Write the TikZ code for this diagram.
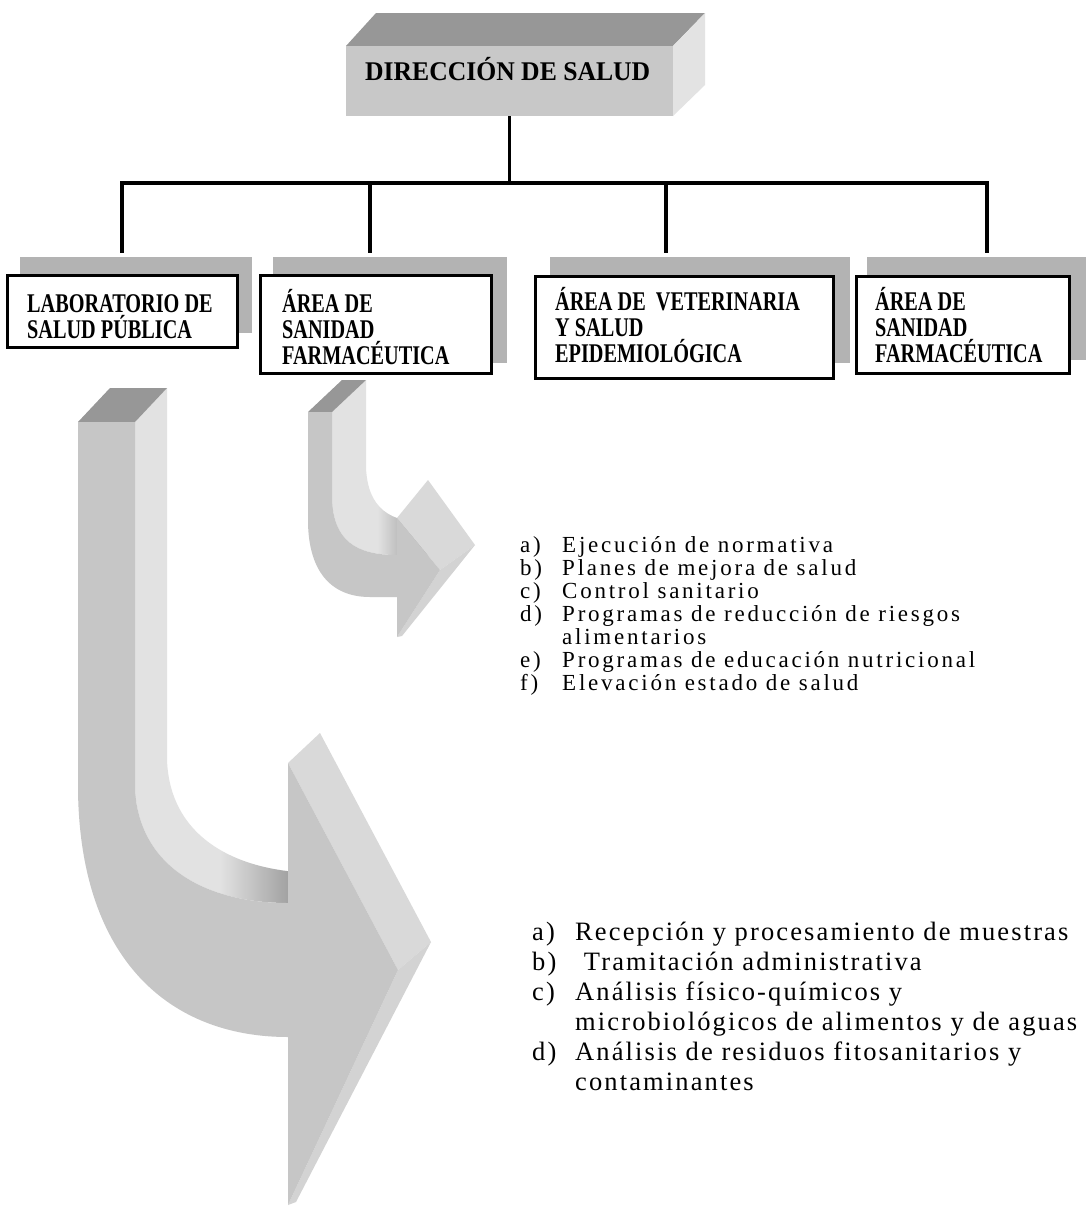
\documentclass[tikz,border=0pt]{standalone}
\usepackage{fontspec}
\setmainfont{Liberation Serif}
\newfontfamily\boxfont[FakeStretch=0.75]{Liberation Serif}
\newfontfamily\hdrfont[FakeStretch=0.95]{Liberation Serif}
\newfontfamily\listfont[LetterSpace=8]{Liberation Serif}
\newfontfamily\listfontb[LetterSpace=12]{Liberation Serif}
\definecolor{frontgray}{HTML}{C6C6C6}
\definecolor{topgray}{HTML}{979797}
\definecolor{sidegray}{HTML}{E2E2E2}
\definecolor{headside}{HTML}{D9D9D9}
\definecolor{stripgray}{HTML}{D3D3D3}
\definecolor{darkend}{HTML}{9C9C9C}
\definecolor{shadowgray}{HTML}{B3B3B3}
\definecolor{hdrfront}{HTML}{C8C8C8}
\definecolor{hdrside}{HTML}{E3E3E3}
\pgfdeclarehorizontalshading{bendshade}{100bp}{color(0bp)=(sidegray); color(48bp)=(sidegray); color(68bp)=(darkend); color(100bp)=(darkend)}
\newcommand{\stacklines}[2]{\vtop{\baselineskip=#1\lineskiplimit=-100pt\lineskip=0pt #2}}
\newcommand{\itm}[3]{\hbox{\makebox[#1][l]{#2}#3}}
\tikzset{
  conn/.style={line width=3.2pt, black},
  orgbox/.style={draw, line width=3pt, fill=white, inner sep=0pt, anchor=north west},
  boxtxt/.style={inner sep=0pt, anchor=base west, font=\boxfont\bfseries\fontsize{27pt}{26pt}\selectfont},
  listtxt/.style={inner sep=0pt, anchor=base west},
}
\begin{document}
\begin{tikzpicture}[x=1pt, y=-1pt]
\useasboundingbox[fill=white] (0,0) rectangle (1091,1216);

% ---- header block ----
\fill[topgray] (346,46) -- (376,13) -- (705,13) -- (673,46) -- cycle;
\fill[hdrside] (673,46) -- (705,13) -- (705,85) -- (673,116) -- cycle;
\node[fill=hdrfront, minimum width=327pt, minimum height=70pt, inner sep=0pt, anchor=north west] (dir) at (346,46) {};
\node[inner sep=0pt, anchor=base west, font=\hdrfont\bfseries\fontsize{27pt}{27pt}\selectfont] (dirlbl) at (365,80) {DIRECCIÓN DE SALUD};

% ---- shadows ----
\fill[shadowgray] (20,257) rectangle (252,333);
\fill[shadowgray] (273,257) rectangle (507,363);
\fill[shadowgray] (550,257) rectangle (850,363);
\fill[shadowgray] (867,257) rectangle (1086,360);

% ---- boxes ----
\node[orgbox, minimum width=230pt, minimum height=72pt] (lab) at (6,274) {};
\node[orgbox, minimum width=231pt, minimum height=98pt] (far1) at (259,274) {};
\node[orgbox, minimum width=298pt, minimum height=102pt] (vet) at (534,275) {};
\node[orgbox, minimum width=213pt, minimum height=97pt] (far2) at (855,275) {};

\node[boxtxt] (labt) at (27,312) {\stacklines{26pt}{\hbox{LABORATORIO DE}\hbox{SALUD PÚBLICA}}};
\node[boxtxt] (far1t) at (282,312) {\stacklines{26pt}{\hbox{ÁREA DE}\hbox{SANIDAD}\hbox{FARMACÉUTICA}}};
\node[boxtxt] (vett) at (555,310) {\stacklines{26pt}{\hbox{ÁREA DE\ \ VETERINARIA}\hbox{Y SALUD}\hbox{EPIDEMIOLÓGICA}}};
\node[boxtxt] (far2t) at (875,310) {\stacklines{26pt}{\hbox{ÁREA DE}\hbox{SANIDAD}\hbox{FARMACÉUTICA}}};

% ---- tree connectors ----
\coordinate (hl) at (122,183);
\coordinate (hr) at (987,183);
\coordinate (d1) at (122,253);
\coordinate (d2) at (370,253);
\coordinate (d3) at (666,253);
\coordinate (d4) at (987,253);
\draw[conn] (dir.south) -- (dir.south |- hl);
\draw[conn, line cap=rect] (hl) -- (hr);
\draw[conn] (hl) -- (d1);
\draw[conn] (d2 |- hl) -- (d2);
\draw[conn] (d3 |- hl) -- (d3);
\draw[conn] (hr) -- (d4);

% ---- big bent arrow ----
\path[shading=bendshade] (135,422) -- (167,388) -- (167,760) .. controls (170,840) and (240,873) .. (320,873) -- (320,903) -- (288,903) .. controls (210,903) and (140,870) .. (135,790) -- cycle;
\fill[topgray] (78,422) -- (110,388) -- (167,388) -- (135,422) -- cycle;
\fill[headside] (288,763) -- (320,733) -- (431,942) -- (398,970) -- cycle;
\fill[stripgray] (398,970) -- (431,942) -- (296,1202) -- (288,1205) -- cycle;
\fill[frontgray] (78,422) -- (135,422) -- (135,790) .. controls (140,870) and (210,903) .. (288,903) -- (288,763) -- (398,970) -- (288,1205) -- (288,1037) .. controls (170,1037) and (80,960) .. (78,790) -- cycle;

% ---- small bent arrow ----
\path[shading=bendshade] (332,412) -- (366,380) -- (366,468) .. controls (368,508) and (389,523) .. (431,523) -- (431,555) -- (397,555) .. controls (355,555) and (334,540) .. (332,500) -- cycle;
\fill[topgray] (308,412) -- (342,380) -- (366,380) -- (332,412) -- cycle;
\fill[headside] (397,518) -- (428,480) -- (475,545) -- (440,570) -- cycle;
\fill[stripgray] (440,570) -- (475,545) -- (402,636) -- (397,637) -- cycle;
\fill[frontgray] (308,412) -- (332,412) -- (332,500) .. controls (334,540) and (355,555) .. (397,555) -- (397,518) -- (440,570) -- (397,637) -- (397,597) -- (370,597) .. controls (330,597) and (308,570) .. (308,520) -- cycle;

% ---- lists ----
\node[listtxt, font=\listfontb\fontsize{23pt}{23pt}\selectfont] (list1) at (520,552) {\stacklines{23pt}{%
\itm{42pt}{a)}{Ejecución de normativa}%
\itm{42pt}{b)}{Planes de mejora de salud}%
\itm{42pt}{c)}{Control sanitario}%
\itm{42pt}{d)}{Programas de reducción de riesgos}%
\itm{42pt}{}{alimentarios}%
\itm{42pt}{e)}{Programas de educación nutricional}%
\itm{42pt}{f)}{Elevación estado de salud}}};

\node[listtxt, font=\listfont\fontsize{26.5pt}{30pt}\selectfont] (list2) at (532,940) {\stacklines{30pt}{%
\itm{43pt}{a)}{Recepción y procesamiento de muestras}%
\itm{43pt}{b)}{\ Tramitación administrativa}%
\itm{43pt}{c)}{Análisis físico-químicos y}%
\itm{43pt}{}{microbiológicos de alimentos y de aguas}%
\itm{43pt}{d)}{Análisis de residuos fitosanitarios y}%
\itm{43pt}{}{contaminantes}}};
\end{tikzpicture}
\end{document}
